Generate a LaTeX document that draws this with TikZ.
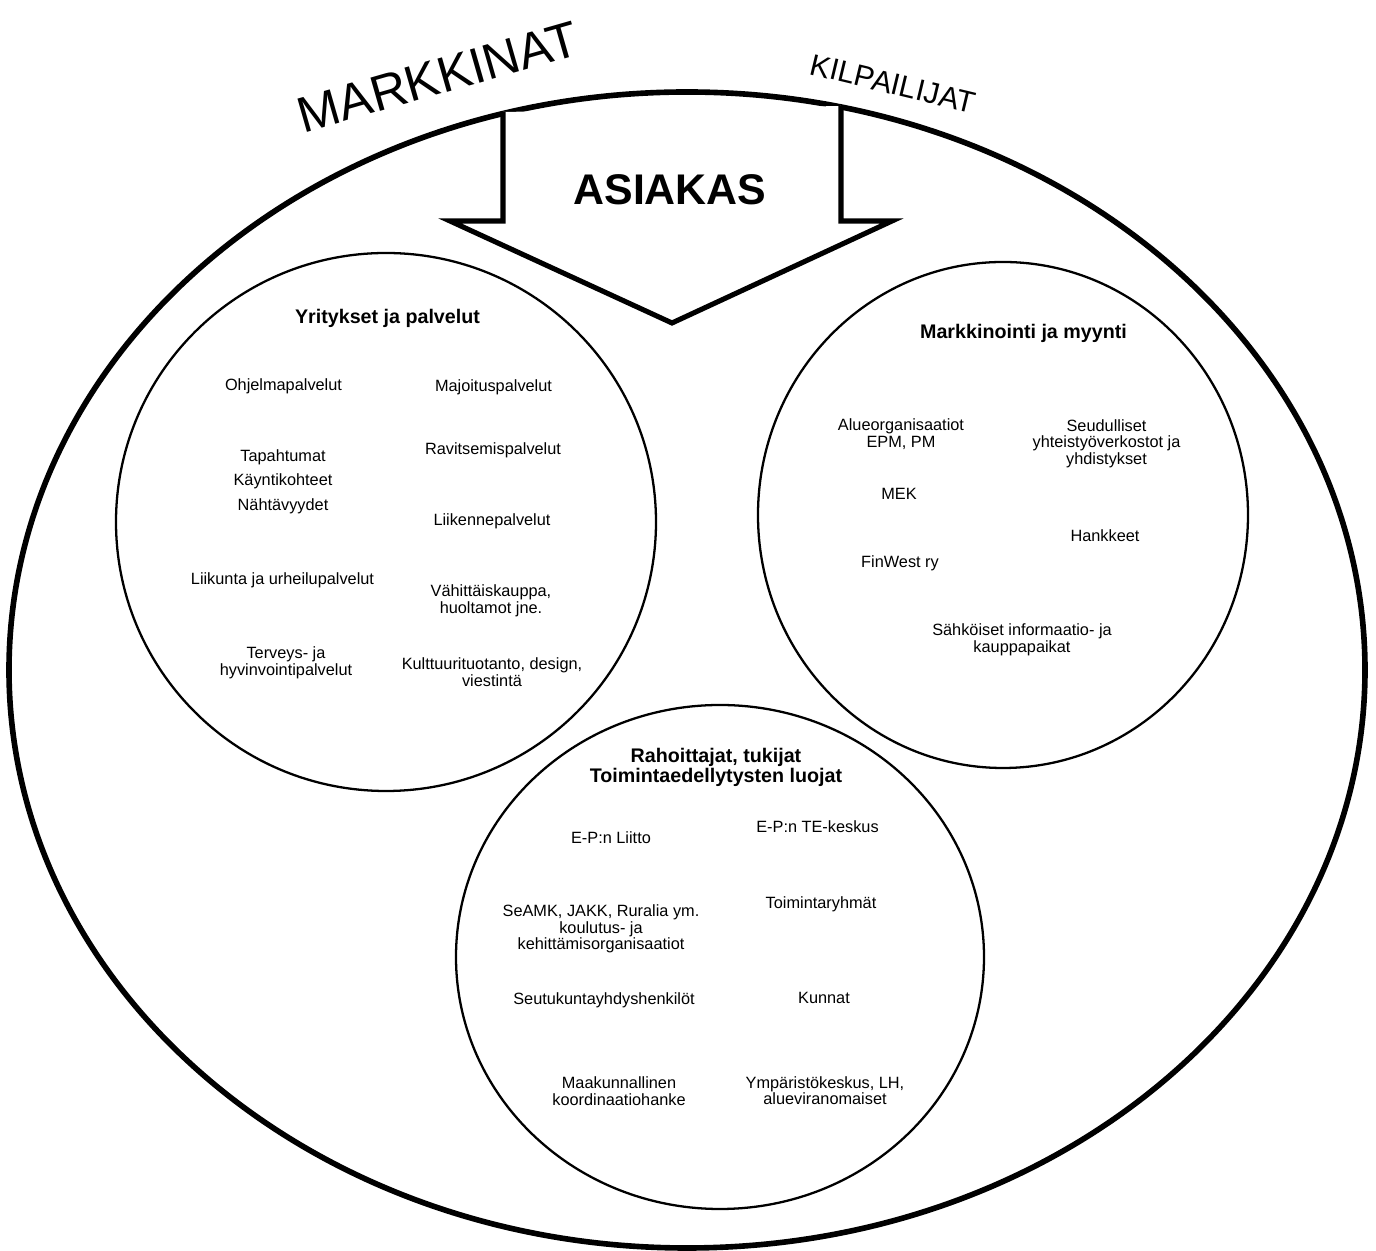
\documentclass[tikz,border=0pt]{standalone}
\usepackage{fontspec}
\setmainfont{Liberation Sans}
\begin{document}
\begin{tikzpicture}[
  reg/.style={font=\fontsize{4.64}{4.7}\selectfont, align=center, inner sep=0pt},
  ttl/.style={font=\bfseries\fontsize{5.6}{5.5}\selectfont, align=center, inner sep=0pt},
  outerline/.style={line width=1.6pt},
  arrowline/.style={line width=1.45pt, line join=miter, fill=white},
  circline/.style={line width=0.65pt}
]
\useasboundingbox (0,0) rectangle (13.76,-12.51);
\fill[white] (0,0) rectangle (13.76,-12.51);

% outer egg
\draw[outerline] (6.87,-6.70) ellipse [x radius=6.78, y radius=5.78];

% inner circles
\draw[circline] (3.86,-5.22) ellipse [x radius=2.70, y radius=2.69];
\draw[circline] (10.03,-5.15) ellipse [x radius=2.45, y radius=2.53];
\draw[circline] (7.20,-9.57) ellipse [x radius=2.64, y radius=2.52];

% big arrow
\draw[arrowline] (5.03,-1.12) -- (5.03,-2.21) -- (4.50,-2.21) -- (6.72,-3.23) -- (8.92,-2.21) -- (8.41,-2.21) -- (8.41,-1.06);

% top texts
\node (markkinat) [inner sep=0pt, rotate=16, font=\fontsize{14.3}{14}\selectfont] at (4.38,-0.77) {MARKKINAT};
\node (kilpailijat) [inner sep=0pt, rotate=-13.5, font=\fontsize{8.6}{8.6}\selectfont] at (8.93,-0.84) {KILPAILIJAT};
\node (asiakas) [inner sep=0pt, font=\bfseries\fontsize{12.2}{12}\selectfont] at (6.70,-1.90) {ASIAKAS};

% circle 1
\node (yp) [ttl] at (3.875,-3.18) {Yritykset ja palvelut};
\node (ohj) [reg] at (2.835,-3.86) {Ohjelmapalvelut};
\node (maj) [reg] at (4.935,-3.87) {Majoituspalvelut};
\node (tap) [reg, font=\fontsize{4.64}{6.97}\selectfont] at (2.83,-4.815) {Tapahtumat\\Käyntikohteet\\Nähtävyydet};
\node (rav) [reg] at (4.93,-4.50) {Ravitsemispalvelut};
\node (lii) [reg] at (4.92,-5.21) {Liikennepalvelut};
\node (liik) [reg] at (2.825,-5.806) {Liikunta ja urheilupalvelut};
\node (vah) [reg] at (4.91,-6.01) {Vähittäiskauppa,\\huoltamot jne.};
\node (ter) [reg] at (2.86,-6.63) {Terveys- ja\\hyvinvointipalvelut};
\node (kul) [reg] at (4.92,-6.72) {Kulttuurituotanto, design,\\viestintä};

% circle 2
\node (mm) [ttl] at (10.235,-3.33) {Markkinointi ja myynti};
\node (alu) [reg] at (9.01,-4.34) {Alueorganisaatiot\\EPM, PM};
\node (seu) [reg] at (11.065,-4.435) {Seudulliset\\yhteistyöverkostot ja\\yhdistykset};
\node (mek) [reg] at (8.99,-4.94) {MEK};
\node (han) [reg] at (11.05,-5.36) {Hankkeet};
\node (fin) [reg] at (9.00,-5.63) {FinWest ry};
\node (sah) [reg] at (10.22,-6.40) {Sähköiset informaatio- ja\\kauppapaikat};

% circle 3
\node (rah) [ttl] at (7.16,-7.675) {Rahoittajat, tukijat\\Toimintaedellytysten luojat};
\node (epl) [reg] at (6.11,-8.38) {E-P:n Liitto};
\node (ept) [reg] at (8.175,-8.27) {E-P:n TE-keskus};
\node (sea) [reg] at (6.01,-9.29) {SeAMK, JAKK, Ruralia ym.\\koulutus- ja\\kehittämisorganisaatiot};
\node (toi) [reg] at (8.21,-9.04) {Toimintaryhmät};
\node (seut) [reg] at (6.04,-10.00) {Seutukuntayhdyshenkilöt};
\node (kun) [reg] at (8.24,-9.98) {Kunnat};
\node (maa) [reg] at (6.19,-10.91) {Maakunnallinen\\koordinaatiohanke};
\node (ymp) [reg] at (8.25,-10.905) {Ympäristökeskus, LH,\\alueviranomaiset};
\end{tikzpicture}
\end{document}
